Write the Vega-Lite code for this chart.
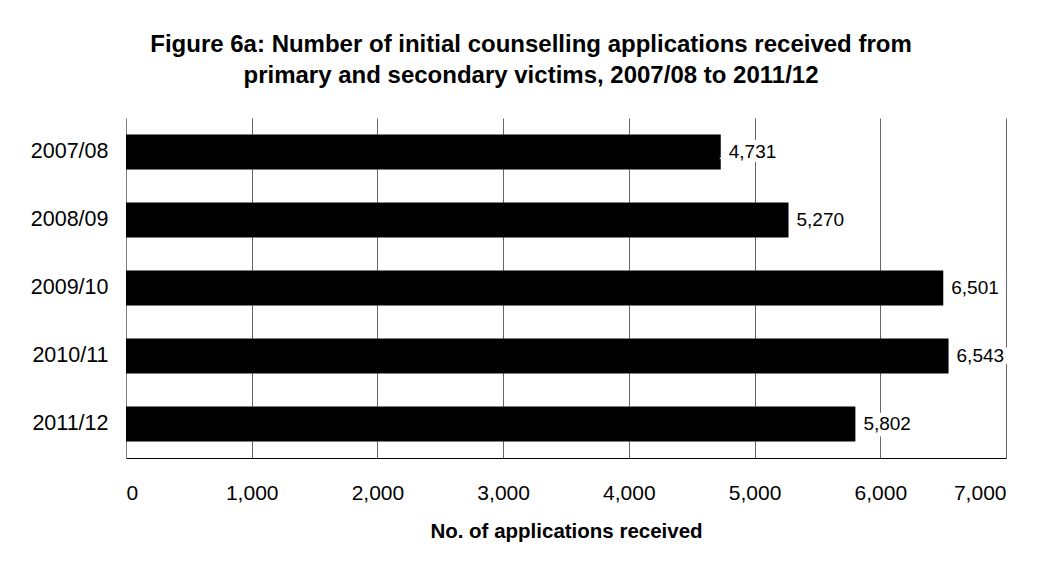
{
  "$schema": "https://vega.github.io/schema/vega-lite/v6.json",
  "width": 880,
  "height": 340,
  "autosize": {"type": "none"},
  "padding": {"left": 126, "top": 118, "right": 47, "bottom": 104},
  "background": "white",
  "title": {
    "text": ["Figure 6a: Number of initial counselling applications received from", "primary and secondary victims, 2007/08 to 2011/12"],
    "font": "Liberation Sans",
    "fontSize": 24,
    "fontWeight": "bold",
    "color": "black",
    "anchor": "middle",
    "frame": "group",
    "lineHeight": 31,
    "offset": 30,
    "dx": -35
  },
  "data": {
    "values": [
      {"year": "2007/08", "applications": 4731},
      {"year": "2008/09", "applications": 5270},
      {"year": "2009/10", "applications": 6501},
      {"year": "2010/11", "applications": 6543},
      {"year": "2011/12", "applications": 5802}
    ]
  },
  "encoding": {
    "y": {
      "field": "year",
      "type": "nominal",
      "sort": null,
      "scale": {"paddingInner": 0.485, "paddingOuter": 0.2425},
      "axis": {
        "title": null,
        "labelFont": "Liberation Sans",
        "labelFontSize": 21.5,
        "labelColor": "black",
        "labelPadding": 18,
        "ticks": false,
        "domainColor": "#808080",
        "grid": false
      }
    },
    "x": {
      "field": "applications",
      "type": "quantitative",
      "scale": {"domain": [0, 7000], "nice": false},
      "axis": {
        "values": [0, 1000, 2000, 3000, 4000, 5000, 6000, 7000],
        "format": ",.0f",
        "labelFont": "Liberation Sans",
        "labelFontSize": 21,
        "labelColor": "black",
        "labelPadding": 24,
        "ticks": false,
        "domainColor": "black",
        "grid": true,
        "gridColor": "#666666",
        "title": "No. of applications received",
        "titleFont": "Liberation Sans",
        "titleFontSize": 20.5,
        "titleFontWeight": "bold",
        "titleColor": "black",
        "titlePadding": 18
      }
    }
  },
  "layer": [
    {"mark": {"type": "bar", "color": "black"}},
    {
      "mark": {"type": "text", "align": "left", "baseline": "middle", "dx": 8, "font": "Liberation Sans", "fontSize": 19, "fill": "white", "stroke": "white", "strokeWidth": 10},
      "encoding": {"text": {"field": "applications", "type": "quantitative", "format": ",.0f"}}
    },
    {
      "mark": {"type": "text", "align": "left", "baseline": "middle", "dx": 8, "font": "Liberation Sans", "fontSize": 19, "color": "black"},
      "encoding": {"text": {"field": "applications", "type": "quantitative", "format": ",.0f"}}
    }
  ],
  "config": {"view": {"stroke": null}}
}
